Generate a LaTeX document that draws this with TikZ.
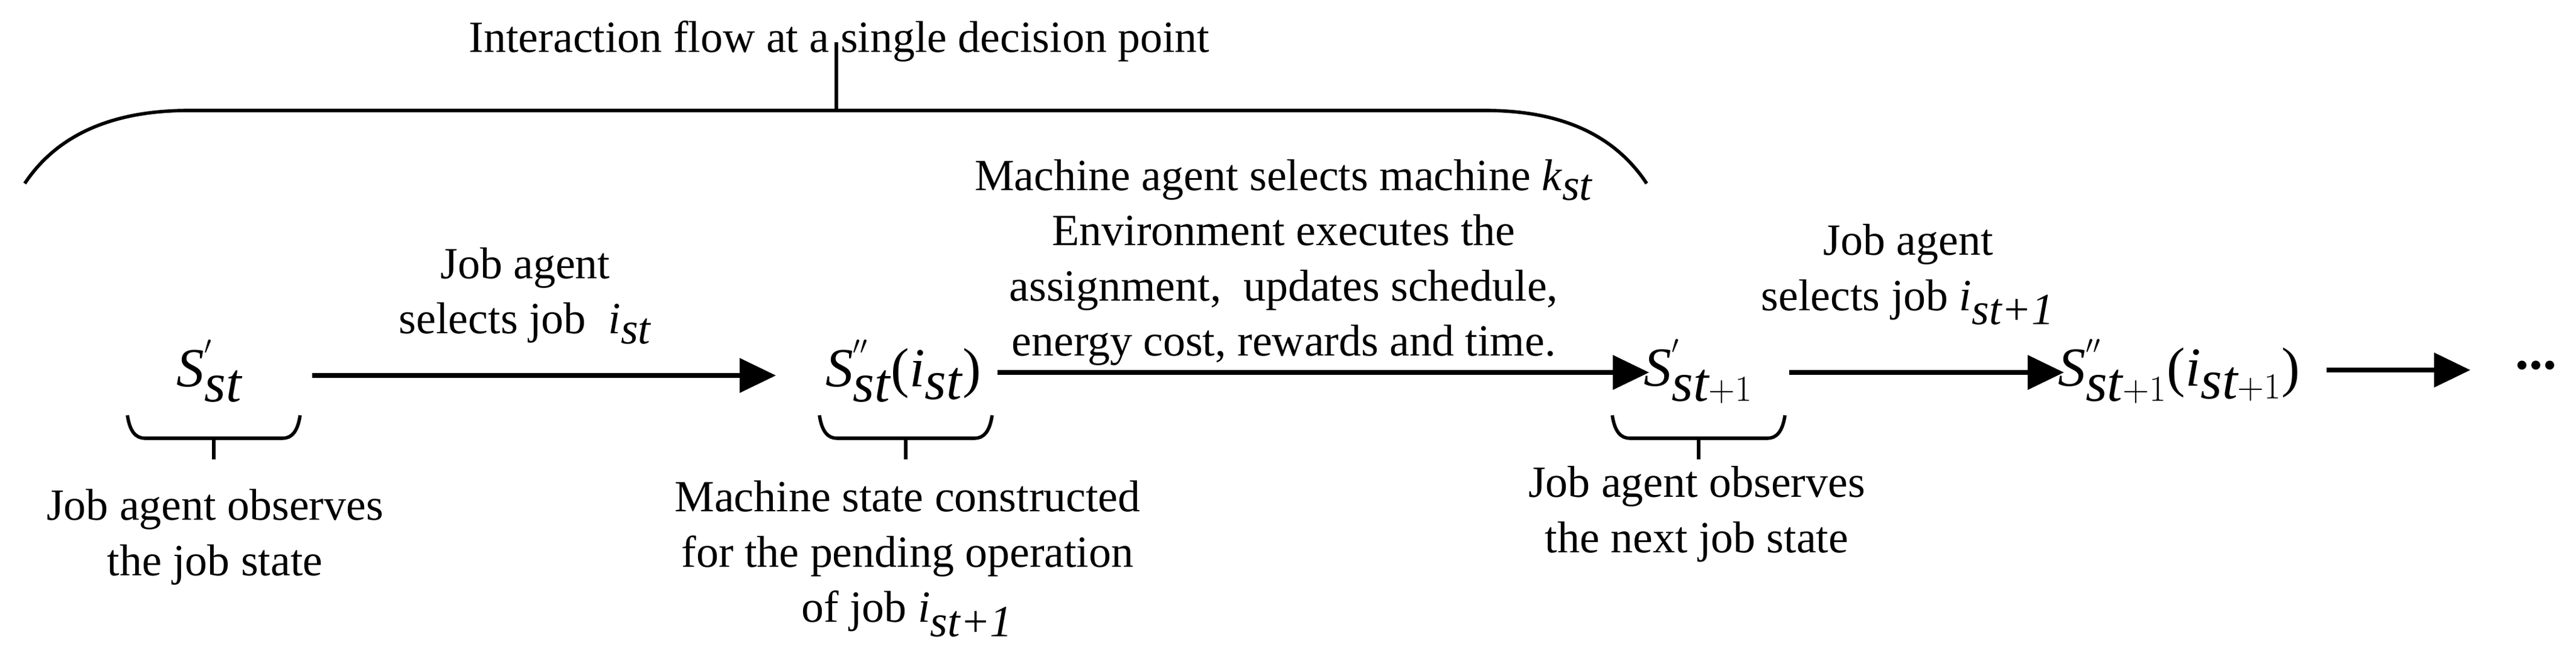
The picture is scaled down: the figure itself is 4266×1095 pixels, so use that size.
\documentclass[tikz,border=0pt]{standalone}
\usepackage{fontspec}
\setmainfont{Liberation Serif}
\usetikzlibrary{arrows.meta}
\tikzset{
  txt/.style={font=\fontsize{21}{26}\selectfont, align=center, inner sep=0pt},
  st/.style={font=\fontsize{26}{30}\selectfont, inner sep=0pt},
  flow/.style={line width=2pt, -{Triangle[length=0.6cm,width=0.56cm]}},
  brc/.style={line width=1.6pt},
}
\newcommand{\ist}[1]{\textit{i}$_{\textit{#1}}$}
\begin{document}
\begin{tikzpicture}[x=0.01cm,y=-0.01cm]
\useasboundingbox (0,0) rectangle (4266,1095);
% title and big brace
\node[txt] (title) at (1390,68) {Interaction flow at a single decision point};
\coordinate (bt) at (1385,70);
\coordinate (bb) at (1385,183);
\draw[brc] (bt) -- (bb);
\draw[brc] (41,304) .. controls (100,215) and (200,183) .. (313,183) -- (2459,183)
  .. controls (2572,183) and (2668,215) .. (2727,304);
% states
\node[st] (s1) at (347,615) {\textit{S}$^{'}_{\textit{st}}$};
\node[st] (s2) at (1496,615) {\textit{S}$^{''}_{\textit{st}}$(\textit{i}$_{\textit{st}}$)};
\node[st] (s3) at (2813,615) {\textit{S}$^{'}_{\textit{st}+1}$};
\node[st] (s4) at (3609,615) {\textit{S}$^{''}_{\textit{st}+1}$(\textit{i}$_{\textit{st}+1}$)};
\node[st, font=\fontsize{26}{30}\selectfont\bfseries] (dots) at (4200,605) {...};
% arrows
\coordinate (a1s) at (517,622); \coordinate (a1e) at (1285,622);
\coordinate (a2s) at (1652,617); \coordinate (a2e) at (2731,617);
\coordinate (a3s) at (2963,617); \coordinate (a3e) at (3418,617);
\coordinate (a4s) at (3853,613); \coordinate (a4e) at (4091,613);
\draw[flow] (a1s) -- (a1e);
\draw[flow] (a2s) -- (a2e);
\draw[flow] (a3s) -- (a3e);
\draw[flow] (a4s) -- (a4e);
% arrow labels
\node[txt] (l1) at (870,490) {Job agent\\selects job \ \ist{st}};
\node[txt] (l2) at (2126,435) {Machine agent selects machine \textit{k}$_{\textit{st}}$\\Environment executes the\\assignment,\ \ updates schedule,\\energy cost, rewards and time.};
\node[txt] (l3) at (3160,455) {Job agent\\selects job \ist{st+1}};
% small braces
\foreach \c/\n in {354/b1, 1500/b2, 2813/b3}{
  \draw[brc] (\c-143,688) .. controls (\c-139,715) and (\c-129,726) .. (\c-114,726)
     -- (\c+114,726) .. controls (\c+129,726) and (\c+139,715) .. (\c+143,688);
  \coordinate (\n t) at (\c,726);
  \coordinate (\n b) at (\c,761);
  \draw[brc] (\n t) -- (\n b);
}
% lower labels
\node[txt, anchor=north] (d1) at (356,810) {Job agent observes\\the job state};
\node[txt, anchor=north] (d2) at (1503,796) {Machine state constructed\\for the pending operation\\of job \ist{st+1}};
\node[txt, anchor=north] (d3) at (2810,772) {Job agent observes\\the next job state};
\end{tikzpicture}
\end{document}
